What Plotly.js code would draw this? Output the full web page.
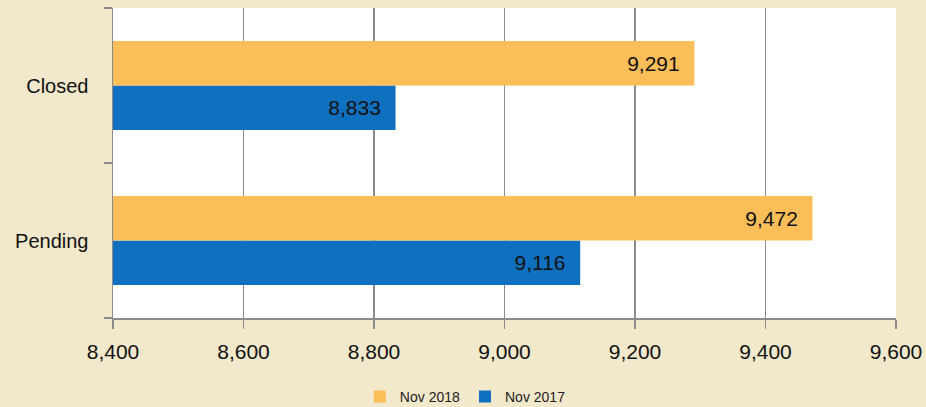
<!DOCTYPE html>
<html><head><meta charset="utf-8">
<script src="https://cdn.plot.ly/plotly-3.0.1.min.js"></script>
<style>html,body{margin:0;padding:0;background:#F2E8CB;}</style>
</head><body>
<div id="chart" style="width:926px;height:407px;"></div>
<script>
const categories = ['Pending', 'Closed'];
const nov2017 = [9116, 8833];
const nov2018 = [9472, 9291];
const seriesNames = ['Nov 2017', 'Nov 2018'];
const xTicks = [8400, 8600, 8800, 9000, 9200, 9400, 9600];
const xTickLabels = ['8,400', '8,600', '8,800', '9,000', '9,200', '9,400', '9,600'];

const fmt = v => v.toLocaleString('en-US') + '\u00a0\u00a0';
const font = 'Liberation Sans, Arial, sans-serif';

const traces = [
  {type:'bar', orientation:'h', name:seriesNames[0], y:categories, x:nov2017,
   marker:{color:'#0E70BE'}, text:nov2017.map(fmt), textposition:'inside',
   insidetextanchor:'end', textfont:{color:'#111', size:21, family:font}, hoverinfo:'x'},
  {type:'bar', orientation:'h', name:seriesNames[1], y:categories, x:nov2018,
   marker:{color:'#FCBE59'}, text:nov2018.map(fmt), textposition:'inside',
   insidetextanchor:'end', textfont:{color:'#111', size:21, family:font}, hoverinfo:'x'}
];

const layout = {
  width:926, height:407,
  paper_bgcolor:'#F2E8CB', plot_bgcolor:'#FFFFFF',
  margin:{l:113, r:30, t:8, b:89, autoexpand:false},
  barmode:'group', bargap:0.425, bargroupgap:0,
  font:{family:font, color:'#111'},
  showlegend:true,
  legend:{orientation:'h', x:0.45, xanchor:'center', yref:'container', y:0.025, yanchor:'middle',
          traceorder:'reversed', font:{size:14, color:'#222'}, bgcolor:'rgba(0,0,0,0)',
          itemwidth:30},
  xaxis:{range:[8400, 9600], tickvals:xTicks, ticktext:xTickLabels,
         showgrid:true, gridcolor:'#8C8C8C', gridwidth:1.5,
         showline:true, linecolor:'#8C8C8C', linewidth:1.5,
         ticks:'outside', ticklen:9, tickcolor:'#8C8C8C', tickwidth:1.5,
         tickfont:{size:21, color:'#111'}, ticklabelstandoff:5, zeroline:false, automargin:false},
  yaxis:{type:'category', categoryorder:'array', categoryarray:categories,
         showline:true, linecolor:'#8C8C8C', linewidth:1.5,
         ticks:'outside', ticklen:8, tickcolor:'#8C8C8C', tickwidth:1.5,
         tickson:'boundaries', showgrid:false, automargin:false,
         tickfont:{size:20, color:'#111'}, ticklabelstandoff:19}
};

Plotly.newPlot('chart', traces, layout, {displayModeBar:false, staticPlot:true});
</script>
</body></html>
